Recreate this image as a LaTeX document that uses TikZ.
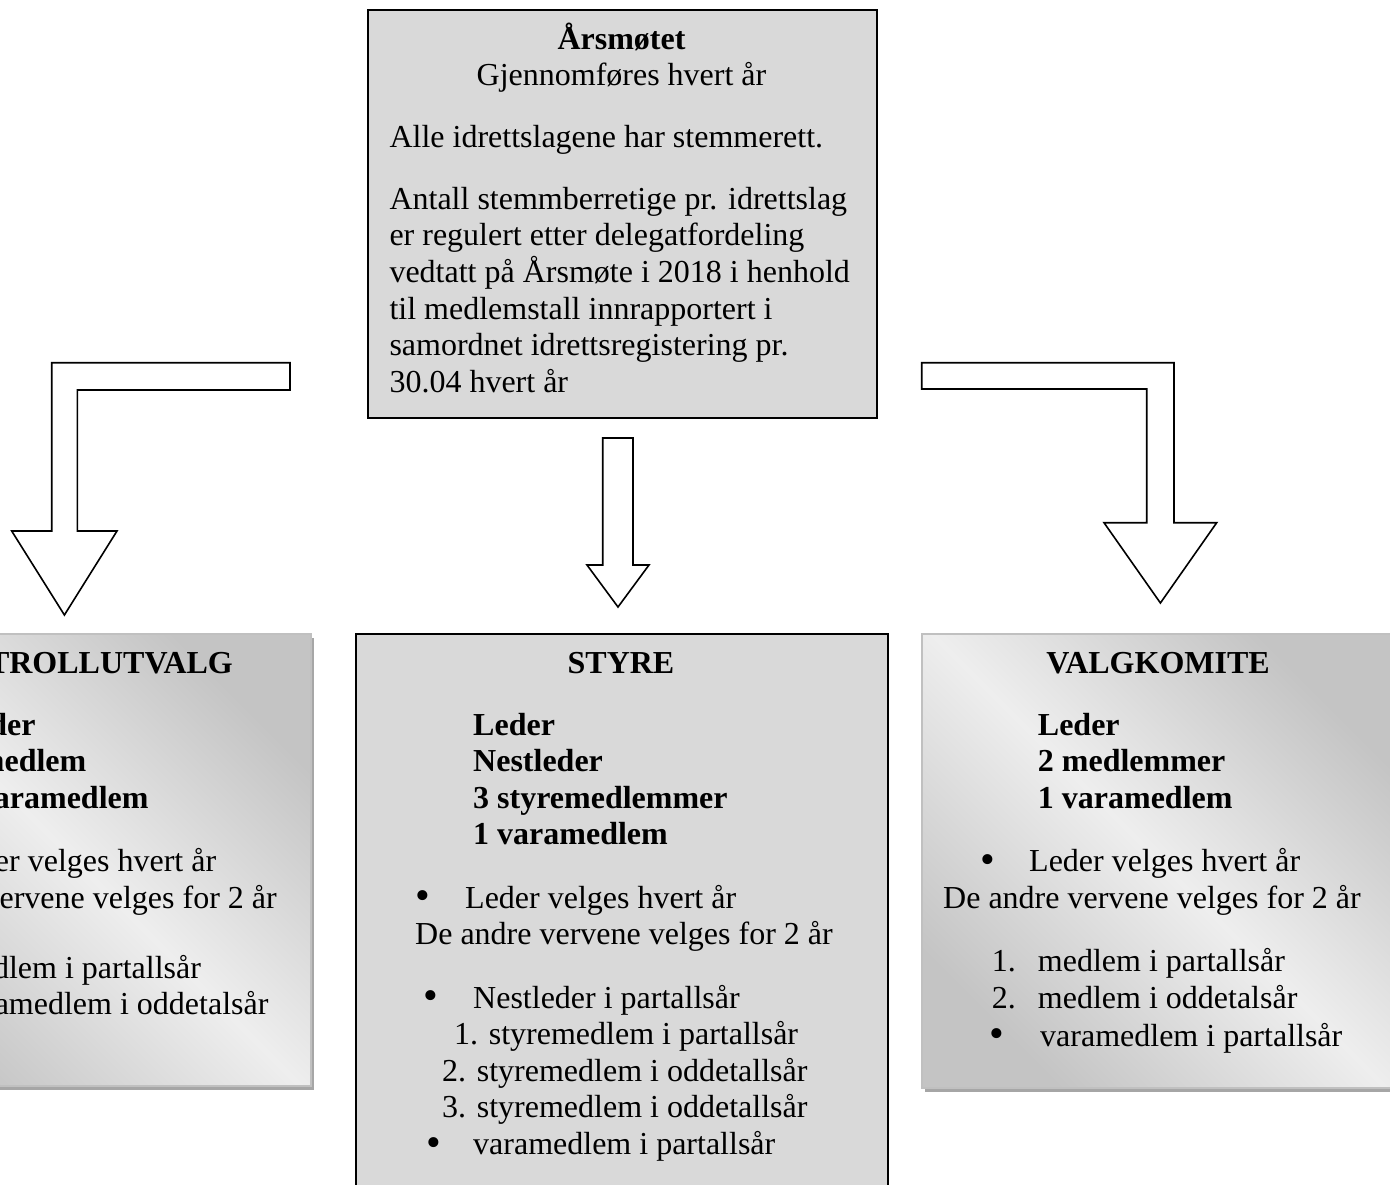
\documentclass[tikz,border=0pt]{standalone}
\usepackage{fontspec}
\setmainfont{Liberation Serif}
\definecolor{boxgray}{RGB}{217,217,217}
\definecolor{edgegray}{RGB}{192,192,192}
\definecolor{shadowgray}{RGB}{166,166,166}
\definecolor{shadedark}{RGB}{196,196,196}
\definecolor{shadelight}{RGB}{238,238,238}
\tikzset{
  txt/.style={inner sep=0pt, font=\fontsize{32}{36.6}\selectfont},
  btxt/.style={inner sep=0pt, font=\fontsize{32}{36.6}\selectfont\bfseries},
  bul/.style={inner sep=0pt, anchor=center, font=\fontsize{42}{44}\selectfont},
  grybox/.style={draw=black, line width=2.2pt, fill=boxgray, inner sep=0pt, anchor=north west},
  gradbox/.style={draw=edgegray, line width=1.5pt, inner sep=0pt, anchor=north west,
    top color=shadedark, bottom color=shadedark, middle color=shadelight, shading angle=-45},
  boxshadow/.style={fill=shadowgray},
  barrow/.style={draw=black, line width=1.6pt, fill=white, line join=miter},
}
\begin{document}
\begin{tikzpicture}[x=1pt, y=-1pt]
\useasboundingbox (0,0) rectangle (1390,1185);
\clip (0,0) rectangle (1390,1185);

% ---------- top box ----------
\node[grybox, minimum width=509pt, minimum height=408pt] (arsmote) at (367,9) {};
\node[btxt, anchor=base] (a1) at (621.5,50) {Årsmøtet};
\node[txt, anchor=base] (a2) at (621.5,86) {Gjennomføres hvert år};
\node[txt, anchor=base west] (a3) at (389.3,147.7) {Alle idrettslagene har stemmerett.};
\node[txt, anchor=base west] (a4) at (389.3,209.3) {Antall stemmberretige pr. idrettslag};
\node[txt, anchor=base west] (a5) at (389.3,245.9) {er regulert etter delegatfordeling};
\node[txt, anchor=base west] (a6) at (389.3,282.5) {vedtatt på Årsmøte i 2018 i henhold};
\node[txt, anchor=base west] (a7) at (389.3,319.1) {til medlemstall innrapportert i};
\node[txt, anchor=base west] (a8) at (389.3,355.7) {samordnet idrettsregistering pr.};
\node[txt, anchor=base west] (a9) at (389.3,392.3) {30.04 hvert år};

% ---------- block arrows ----------
\draw[barrow] (290,362.7) -- (51.7,362.7) -- (51.7,531) -- (11.7,531) -- (64.4,615)
  -- (117,531) -- (77.3,531) -- (77.3,390) -- (290,390) -- cycle;
\draw[barrow] (602.7,438) -- (633,438) -- (633,565) -- (649,565) -- (618,607)
  -- (587,565) -- (602.7,565) -- cycle;
\draw[barrow] (921.7,362.7) -- (1174,362.7) -- (1174,522.7) -- (1216.7,522.7) -- (1160.4,603)
  -- (1104,522.7) -- (1146.7,522.7) -- (1146.7,389) -- (921.7,389) -- cycle;

% ---------- KONTROLLUTVALG ----------
\fill[boxshadow] (-159,638) rectangle (314,1090);
\node[gradbox, minimum width=473pt, minimum height=452pt] (kontroll) at (-163,633) {};
\node[btxt, anchor=base] (k1) at (74,673.3) {KONTROLLUTVALG};
\node[btxt, anchor=base west] (k2) at (-46.3,735) {Leder};
\node[btxt, anchor=base west] (k3) at (-46.3,771.6) {1 medlem};
\node[btxt, anchor=base west] (k4) at (-46.3,808.2) {1 varamedlem};
\node[bul] (k5b) at (-96,864) {•};
\node[txt, anchor=base west] (k5) at (-55,871.7) {Leder velges hvert år};
\node[txt, anchor=base west] (k6) at (-141,908.3) {De andre vervene velges for 2 år};
\node[txt, anchor=base west] (k7n) at (-92.3,978) {1.};
\node[txt, anchor=base west] (k7) at (-46.3,978) {medlem i partallsår};
\node[txt, anchor=base west] (k8n) at (-92.3,1014.6) {2.};
\node[txt, anchor=base west] (k8) at (-46.3,1014.6) {varamedlem i oddetalsår};

% ---------- STYRE ----------
\node[grybox, minimum width=532pt, minimum height=600pt] (styre) at (355,633) {};
\node[btxt, anchor=base] (s1) at (621,673.3) {STYRE};
\node[btxt, anchor=base west] (s2) at (473,735) {Leder};
\node[btxt, anchor=base west] (s3) at (473,771.6) {Nestleder};
\node[btxt, anchor=base west] (s4) at (473,808.2) {3 styremedlemmer};
\node[btxt, anchor=base west] (s5) at (473,844.8) {1 varamedlem};
\node[bul] (s6b) at (423,900.3) {•};
\node[txt, anchor=base west] (s6) at (465,908) {Leder velges hvert år};
\node[txt, anchor=base] (s7) at (624,944.6) {De andre vervene velges for 2 år};
\node[bul] (s8b) at (431,1000.3) {•};
\node[txt, anchor=base west] (s8) at (473,1008) {Nestleder i partallsår};
\node[txt, anchor=base west] (s9) at (454,1044.6) {1. styremedlem i partallsår};
\node[txt, anchor=base west] (s10) at (442,1081.2) {2. styremedlem i oddetallsår};
\node[txt, anchor=base west] (s11) at (442,1117.8) {3. styremedlem i oddetallsår};
\node[bul] (s12b) at (434,1146.7) {•};
\node[txt, anchor=base west] (s12) at (473,1154.4) {varamedlem i partallsår};

% ---------- VALGKOMITE ----------
\fill[boxshadow] (925,638) rectangle (1399,1092);
\node[gradbox, minimum width=474pt, minimum height=454pt] (valg) at (921,633) {};
\node[btxt, anchor=base] (v1) at (1158,673.3) {VALGKOMITE};
\node[btxt, anchor=base west] (v2) at (1037.7,735) {Leder};
\node[btxt, anchor=base west] (v3) at (1037.7,771.6) {2 medlemmer};
\node[btxt, anchor=base west] (v4) at (1037.7,808.2) {1 varamedlem};
\node[bul] (v5b) at (988,864) {•};
\node[txt, anchor=base west] (v5) at (1029,871.7) {Leder velges hvert år};
\node[txt, anchor=base west] (v6) at (943,908.3) {De andre vervene velges for 2 år};
\node[txt, anchor=base west] (v7n) at (991.7,971.7) {1.};
\node[txt, anchor=base west] (v7) at (1037.7,971.7) {medlem i partallsår};
\node[txt, anchor=base west] (v8n) at (991.7,1008.3) {2.};
\node[txt, anchor=base west] (v8) at (1037.7,1008.3) {medlem i oddetalsår};
\node[bul] (v9b) at (997,1038.3) {•};
\node[txt, anchor=base west] (v9) at (1040,1046) {varamedlem i partallsår};
\end{tikzpicture}
\end{document}
